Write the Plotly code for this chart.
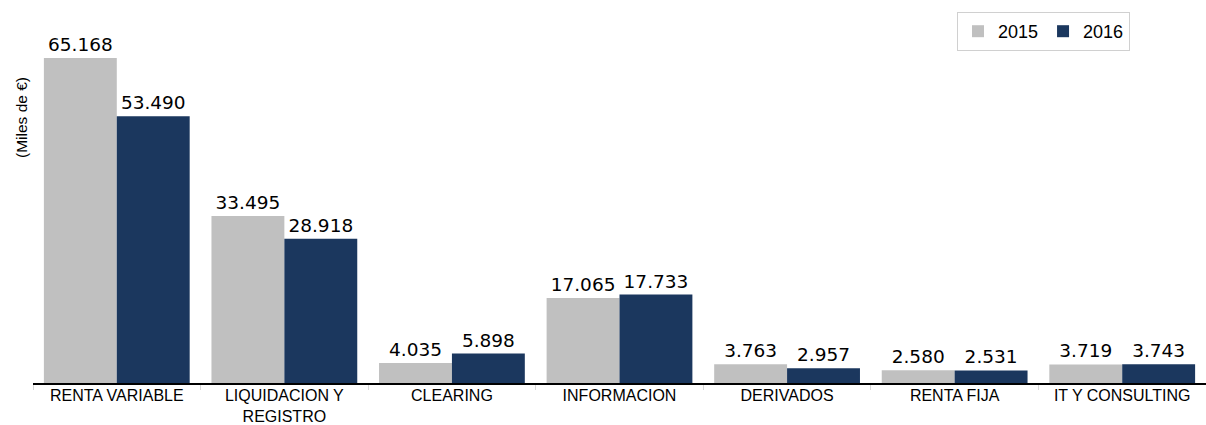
import plotly.graph_objects as go

categories = ["RENTA VARIABLE", "LIQUIDACION Y<br>REGISTRO", "CLEARING", "INFORMACION",
              "DERIVADOS", "RENTA FIJA", "IT Y CONSULTING"]
values_2015 = [65168, 33495, 4035, 17065, 3763, 2580, 3719]
values_2016 = [53490, 28918, 5898, 17733, 2957, 2531, 3743]
series_names = ["2015", "2016"]
y_title = "(Miles de €)"

color_2015 = "#C0C0C0"
color_2016 = "#1B375E"

fig = go.Figure()
for name, vals, col in [(series_names[0], values_2015, color_2015),
                        (series_names[1], values_2016, color_2016)]:
    fig.add_trace(go.Bar(
        x=categories, y=vals, name=name,
        marker=dict(color=col, line=dict(width=0)),
        texttemplate="%{y:,.0f}", textposition="outside",
        textfont=dict(family="DejaVu Sans", size=18.5, color="#000000"),
        cliponaxis=False,
    ))

L, R, T, B = 33, 0, 34, 42
W, H = 1206, 425
pw = W - L - R
ph = H - T - B

fig.update_layout(
    width=W, height=H,
    margin=dict(l=L, r=R, t=T, b=B, autoexpand=False),
    paper_bgcolor="white", plot_bgcolor="white",
    separators=",.",
    barmode="group", bargap=0.13, bargroupgap=0,
    showlegend=True,
    legend=dict(orientation="h", x=(957 - L) / pw, xanchor="left",
                y=1 + (T - 12) / ph, yanchor="top",
                bordercolor="#D0D0D0", borderwidth=1,
                font=dict(family="Liberation Sans, Arial", size=18, color="#000000"),
                itemwidth=30, tracegroupgap=0),
    xaxis=dict(showline=True, linecolor="#000000", linewidth=1.5, automargin=False,
               ticks="outside", tickson="boundaries", tickcolor="#D9D9D9", ticklen=5,
               ticklabelstandoff=-3,
               tickfont=dict(family="Liberation Sans, Arial", size=16, color="#000000"),
               showgrid=False),
    yaxis=dict(range=[0, 70000], visible=False, showgrid=False, automargin=False),
    annotations=[dict(text=y_title, x=(22 - L) / pw, y=(H - B - 118) / ph,
                      xref="paper", yref="paper", xanchor="center", yanchor="middle",
                      showarrow=False, textangle=-90,
                      font=dict(family="Liberation Sans, Arial", size=15.5, color="#000000"))],
)

fig.write_html("out.html", config={"displayModeBar": False},
               post_script="document.body.style.margin='0';document.body.style.overflow='hidden';")
